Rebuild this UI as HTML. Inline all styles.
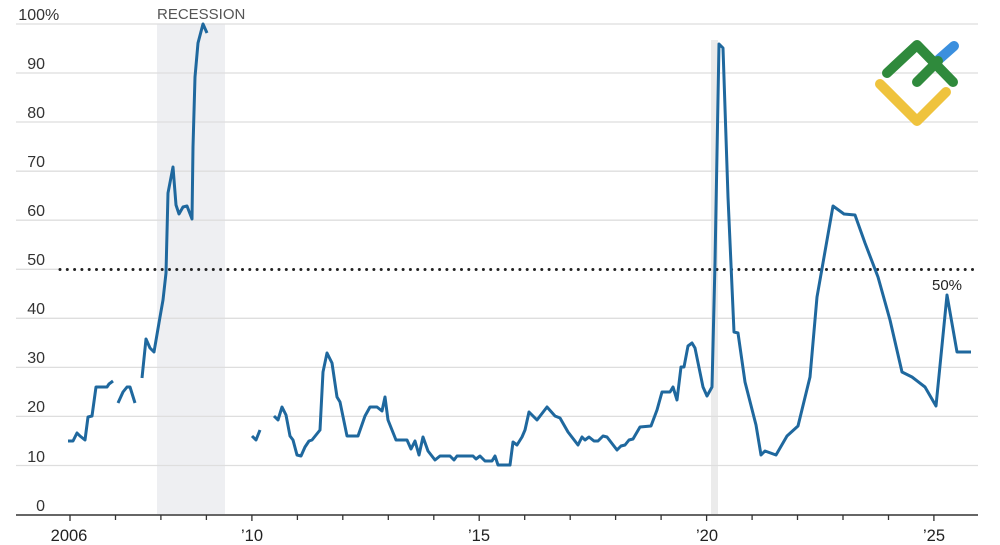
<!DOCTYPE html>
<html><head><meta charset="utf-8"><style>
html,body{margin:0;padding:0;background:#fff;}
svg{display:block;}
text{font-family:"Liberation Sans",sans-serif;}
</style></head><body>
<svg width="1000" height="545" viewBox="0 0 1000 545" xmlns="http://www.w3.org/2000/svg">
<rect x="0" y="0" width="1000" height="545" fill="#fff"/>
<!-- recession shading -->
<rect x="157" y="24" width="68" height="490" fill="#eeeff2"/>
<rect x="711" y="40" width="7" height="474" fill="#ebebeb"/>
<!-- gridlines -->
<g stroke="#dedede" stroke-width="1.3">
<line x1="16" y1="24" x2="978" y2="24"/>
<line x1="16" y1="73" x2="978" y2="73"/>
<line x1="16" y1="122" x2="978" y2="122"/>
<line x1="16" y1="171.2" x2="978" y2="171.2"/>
<line x1="16" y1="220.2" x2="978" y2="220.2"/>
<line x1="16" y1="269.3" x2="60" y2="269.3"/>
<line x1="16" y1="318.3" x2="978" y2="318.3"/>
<line x1="16" y1="367.4" x2="978" y2="367.4"/>
<line x1="16" y1="416.4" x2="978" y2="416.4"/>
<line x1="16" y1="465.5" x2="978" y2="465.5"/>
</g>
<!-- dotted 50% line -->
<line x1="60" y1="269.5" x2="975" y2="269.5" stroke="#222" stroke-width="3" stroke-linecap="round" stroke-dasharray="0 7.3"/>
<!-- y labels -->
<g fill="#333" font-size="16" text-anchor="end">
<text x="45" y="20">100</text>
<text x="45" y="69">90</text>
<text x="45" y="118">80</text>
<text x="45" y="167">70</text>
<text x="45" y="216">60</text>
<text x="45" y="265">50</text>
<text x="45" y="314">40</text>
<text x="45" y="363">30</text>
<text x="45" y="412">20</text>
<text x="45" y="462">10</text>
<text x="45" y="511">0</text>
</g>
<text x="45" y="20" fill="#333" font-size="16">%</text>
<text x="157" y="19" fill="#555" font-size="15">RECESSION</text>
<!-- axis -->
<line x1="16" y1="515" x2="978" y2="515" stroke="#333" stroke-width="1.6"/>
<g stroke="#333" stroke-width="1.3">
<line x1="70" y1="515" x2="70" y2="521"/>
<line x1="115.5" y1="515" x2="115.5" y2="520"/>
<line x1="160.9" y1="515" x2="160.9" y2="520"/>
<line x1="206.4" y1="515" x2="206.4" y2="520"/>
<line x1="251.9" y1="515" x2="251.9" y2="521"/>
<line x1="297.4" y1="515" x2="297.4" y2="520"/>
<line x1="342.8" y1="515" x2="342.8" y2="520"/>
<line x1="388.3" y1="515" x2="388.3" y2="520"/>
<line x1="433.8" y1="515" x2="433.8" y2="520"/>
<line x1="479.2" y1="515" x2="479.2" y2="521"/>
<line x1="524.7" y1="515" x2="524.7" y2="520"/>
<line x1="570.2" y1="515" x2="570.2" y2="520"/>
<line x1="615.6" y1="515" x2="615.6" y2="520"/>
<line x1="661.1" y1="515" x2="661.1" y2="520"/>
<line x1="706.6" y1="515" x2="706.6" y2="521"/>
<line x1="752.1" y1="515" x2="752.1" y2="520"/>
<line x1="797.5" y1="515" x2="797.5" y2="520"/>
<line x1="843" y1="515" x2="843" y2="520"/>
<line x1="888.5" y1="515" x2="888.5" y2="520"/>
<line x1="933.9" y1="515" x2="933.9" y2="521"/>
</g>
<g fill="#222" font-size="16.5" text-anchor="middle">
<text x="69" y="541">2006</text>
<text x="252" y="541">’10</text>
<text x="479" y="541">’15</text>
<text x="707" y="541">’20</text>
<text x="934" y="541">’25</text>
</g>
<!-- series -->
<g fill="none" stroke="#1f689e" stroke-width="3" stroke-linejoin="round" stroke-linecap="butt">
<polyline points="68,441 73,441 77,433 80,436 85,440 88,417 92,416 96,387 107,387 109,384 113,381"/>
<polyline points="118,403 123,392 127,387 130,387 135,403"/>
<polyline points="142,378 146,339 150,348 154,352 160,317 163,300 166,273 168,193 173,167 176,205 179,214 183,207 187,206 192,219 193,147 195,77 198,43 203,24 207,33"/>
<polyline points="252,436 256,440 260,430"/>
<polyline points="274,416 278,420 282,407 286,415 290,436 293,440 297,455 301,456 305,447 309,441 312,440 316,435 320,430 323,372 327,353 332,363 337,397 340,402 347,436 358,436 365,416 370,407 377,407 382,411 385,397 388,420 396,440 407,440 411,449 415,441 419,455 423,437 428,451 435,460 440,456 450,456 454,460 457,456 473,456 476,459 480,456 485,461 492,461 495,456 498,465 510,465 513,442 517,445 522,437 525,430 529,412 537,420 547,407 555,416 560,418 568,432 578,445 582,437 585,440 589,437 594,441 598,441 603,436 607,437 617,450 621,446 625,445 629,440 633,439 640,427 651,426 657,410 662,392 670,392 673,387 677,400 681,367 684,367 688,346 692,343 695,348 703,387 707,396 712,387 715,263 719,44 723,48 728,197 734,332 738,333 745,382 756,425 761,455 765,451 776,455 787,436 798,426 810,377 817,297 833,206 844,214 855,215 865,243 878,277 890,320 902,372 912,377 925,387 936,406 947,295 957,352 971,352"/>
</g>
<text x="947" y="290" fill="#222" font-size="15" text-anchor="middle">50%</text>
<!-- logo -->
<g fill="none" stroke-width="10" stroke-linecap="round" stroke-linejoin="round">
<polyline points="880,84 917,121 946,92" stroke="#efc33d"/>
<line x1="937" y1="61" x2="954" y2="46" stroke="#3b8fde"/>
<polyline points="887,73 917,45 953,82" stroke="#2f8a3c"/>
<line x1="917" y1="82" x2="938" y2="61" stroke="#2f8a3c"/>
</g>
</svg>
</body></html>
